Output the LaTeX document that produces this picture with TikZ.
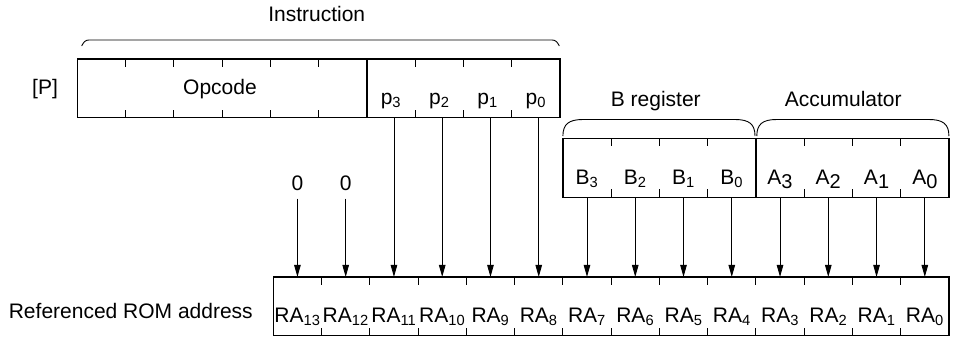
\documentclass[tikz,border=0pt]{standalone}
\usepackage{fontspec}
\setmainfont{Liberation Sans}
\usetikzlibrary{arrows.meta,positioning,fit,calc}
\tikzset{
  % Register outline and full-height field divider
  regbox/.style={draw, rectangle, line width=1.3pt, inner sep=0pt},
  regline/.style={line width=1.3pt},
  % One bit position: label sits low in the cell
  bitcell/.style={rectangle, minimum width=48.26pt, minimum height=58.8pt,
                  inner sep=0pt, outer sep=0pt, text height=33pt, text depth=0pt},
  % Short tick on a bit boundary
  bittick/.style={line width=0.9pt},
  % Bracket over a field
  grpbrace/.style={line width=0.9pt},
  % Bit transfer
  flowarr/.style={-{Triangle[length=12pt,width=6.5pt]}, line width=0.9pt}
}
\newcommand{\abit}[1]{A\raisebox{-4.4pt}{\fontsize{20pt}{20pt}\selectfont #1}}

\begin{document}
\begin{tikzpicture}[x=1pt, y=-1pt, font=\fontsize{21pt}{25pt}\selectfont]
\useasboundingbox (0,0) rectangle (953,338);

% ============== ROM ADDRESS ==============
\node[bitcell] (ra13) at (297.43,306.35) {RA\textsubscript{13}};
\foreach \b [remember=\b as \prev (initially 13)] in {12,...,0}
  \node[bitcell, right=0pt of ra\prev] (ra\b) {RA\textsubscript{\b}};
\node[regbox, fit=(ra13)(ra0)] (rom) {};
\foreach \b in {12,...,0}
  \draw[bittick] (ra\b.north west) -- ++(0,8) (ra\b.south west) -- ++(0,-8);
\node[anchor=base] (romname) at (130.8,318.3) {Referenced ROM address};

% ============== B REGISTER + ACCUMULATOR ==============
\node[bitcell, above=79.7pt of ra7] (b3) {B\textsubscript{3}};
\foreach \b [remember=\b as \prev (initially 3)] in {2,1,0}
  \node[bitcell, right=0pt of b\prev] (b\b) {B\textsubscript{\b}};
\node[bitcell, right=0pt of b0] (a3) {\abit{3}};
\foreach \b [remember=\b as \prev (initially 3)] in {2,1,0}
  \node[bitcell, right=0pt of a\prev] (a\b) {\abit{\b}};
\node[regbox, fit=(b3)(a0)] (regba) {};
\draw[regline] (b0.north east) -- (b0.south east);
\foreach \c in {b2,b1,b0,a2,a1,a0}
  \draw[bittick] (\c.north west) -- ++(0,8) (\c.south west) -- ++(0,-8);

\draw[grpbrace] (562.9,136) .. controls (562.9,124) and (569,119.5) .. (583,119.5)
  -- (735,119.5) .. controls (749,119.5) and (755,124) .. (755,136);
\draw[grpbrace] (756.8,136) .. controls (756.8,124) and (762.8,119.5) .. (776.8,119.5)
  -- (928.9,119.5) .. controls (942.9,119.5) and (948.9,124) .. (948.9,136);
\node[anchor=base] (bname) at (655.8,106.7) {B register};
\node[anchor=base] (accname) at (843.3,106.7) {Accumulator};

% ============== INSTRUCTION [P] ==============
\node[bitcell] (op5) at (101.43,88.25) {};
\foreach \b [remember=\b as \prev (initially 5)] in {4,...,0}
  \node[bitcell, right=0pt of op\prev] (op\b) {};
\node[bitcell, right=0pt of op0] (p3) {p\textsubscript{3}};
\foreach \b [remember=\b as \prev (initially 3)] in {2,1,0}
  \node[bitcell, right=0pt of p\prev] (p\b) {p\textsubscript{\b}};
\node[regbox, fit=(op5)(p0)] (pbox) {};
\draw[regline] (op0.north east) -- (op0.south east);
\foreach \c in {op4,op3,op2,op1,op0,p2,p1,p0}
  \draw[bittick] (\c.north west) -- ++(0,8) (\c.south west) -- ++(0,-8);
\node[anchor=base] (opname) at (220,94) {Opcode};
\node[anchor=base] (pname) at (45,94.5) {[P]};

\draw[grpbrace] (81.7,46) .. controls (83.5,42) and (85.5,40) .. (89,40)
  -- (552,40) .. controls (555.5,40) and (557.5,42) .. (559.3,46);
\node[anchor=base] (instrname) at (316.7,21.7) {Instruction};

% ============== BIT TRANSFERS ==============
\coordinate (zerorow) at (0,190.5);
\node[anchor=base] (zero13) at (ra13 |- zerorow) {0};
\node[anchor=base] (zero12) at (ra12 |- zerorow) {0};
\draw[flowarr, shorten <=4.5pt] (zero13) -- (ra13);
\draw[flowarr, shorten <=4.5pt] (zero12) -- (ra12);
\foreach \b in {11,...,8}
  \draw[flowarr] (ra\b |- pbox.south) -- (ra\b.north);
\foreach \src/\dst in {b3/7,b2/6,b1/5,b0/4,a3/3,a2/2,a1/1,a0/0}
  \draw[flowarr] (\src.south) -- (ra\dst.north);

\end{tikzpicture}
\end{document}
